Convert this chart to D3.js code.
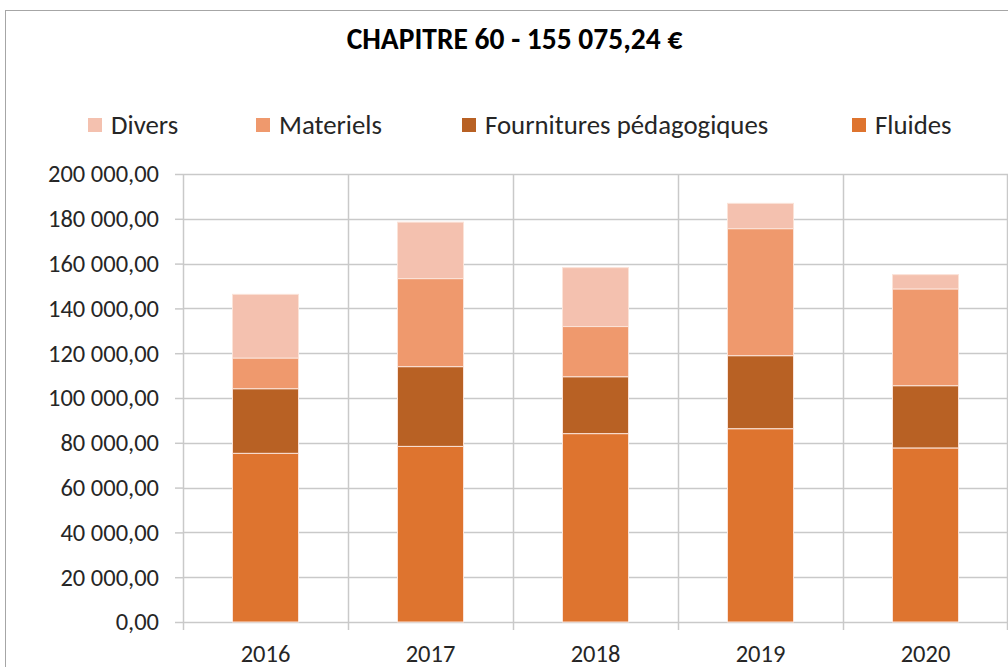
<!DOCTYPE html>
<html>
<head>
<meta charset="utf-8">
<script src="https://cdn.jsdelivr.net/npm/d3@7"></script>
<style>
  body { margin: 0; background: #fff; }
  svg { display: block; }
  text { font-family: Carlito, "Liberation Sans Narrow", "Open Sans", sans-serif; fill: #262626; }
</style>
</head>
<body>
<div id="chart"></div>
<script>
// data
const years = ['2016', '2017', '2018', '2019', '2020'];
const fluides = [75300, 78400, 84100, 86300, 77700];
const fournitures = [28850, 35600, 25400, 32600, 27800];
const materiels = [13700, 39300, 22400, 56700, 43200];
const divers = [28430, 25200, 26300, 11300, 6375];
const yTicks = [0, 20000, 40000, 60000, 80000, 100000, 120000, 140000, 160000, 180000, 200000];

const seriesNames = ['Fluides', 'Fournitures pédagogiques', 'Materiels', 'Divers'];
const legendOrder = ['Divers', 'Materiels', 'Fournitures pédagogiques', 'Fluides'];
const colors = {
  'Fluides': '#DE742F',
  'Fournitures pédagogiques': '#B86124',
  'Materiels': '#EF996D',
  'Divers': '#F4C1AF'
};

const width = 1008, height = 667;
const plot = { left: 183, right: 1008, top: 174, bottom: 622 };

const table = years.map((y, i) => ({
  year: y,
  'Fluides': fluides[i],
  'Fournitures pédagogiques': fournitures[i],
  'Materiels': materiels[i],
  'Divers': divers[i]
}));

const fr = d3.formatLocale({ decimal: ',', thousands: '\u00a0', grouping: [3], currency: ['', ' €'] });
const fmt = fr.format(',.2f');

const svg = d3.select('#chart').append('svg')
  .attr('width', width)
  .attr('height', height);

// outer chart frame
svg.append('rect')
  .attr('x', 5.5).attr('y', 10.5)
  .attr('width', 1100).attr('height', 800)
  .attr('fill', 'none')
  .attr('stroke', '#a6a6a6')
  .attr('stroke-width', 1);

const x = d3.scaleBand()
  .domain(years)
  .range([plot.left, plot.right])
  .padding(0);

const y = d3.scaleLinear()
  .domain([0, 200000])
  .range([plot.bottom, plot.top]);

// horizontal gridlines + y axis
const yAxis = svg.append('g')
  .attr('transform', `translate(${plot.left},0)`)
  .call(d3.axisLeft(y).tickValues(yTicks).tickFormat(fmt).tickSize(8).tickPadding(16));
yAxis.select('.domain').remove();
yAxis.selectAll('line').attr('stroke', '#c9c9c9').attr('stroke-width', 1.5);
yAxis.selectAll('text')
  .style('font-size', '24.5px')
  .style('fill', '#262626');

svg.append('g')
  .selectAll('line')
  .data(yTicks)
  .join('line')
  .attr('x1', plot.left).attr('x2', plot.right)
  .attr('y1', d => Math.round(y(d)) + 0.5).attr('y2', d => Math.round(y(d)) + 0.5)
  .attr('stroke', '#c9c9c9')
  .attr('stroke-width', 1.5);

// vertical gridlines at category boundaries
const edges = years.map(d => x(d)).concat([plot.right - 1]);
svg.append('g')
  .selectAll('line')
  .data(edges)
  .join('line')
  .attr('x1', d => Math.round(d) + 0.5).attr('x2', d => Math.round(d) + 0.5)
  .attr('y1', plot.top).attr('y2', plot.bottom + 8)
  .attr('stroke', '#c9c9c9')
  .attr('stroke-width', 1.5);

// stacked bars
const stack = d3.stack().keys(seriesNames);
const layers = stack(table);
const barW = x.bandwidth() * 0.4;

svg.append('g')
  .selectAll('g')
  .data(layers)
  .join('g')
  .attr('fill', d => colors[d.key])
  .selectAll('rect')
  .data(d => d)
  .join('rect')
  .attr('x', d => x(d.data.year) + (x.bandwidth() - barW) / 2)
  .attr('y', d => y(d[1]))
  .attr('width', barW)
  .attr('height', d => y(d[0]) - y(d[1]))
  .attr('stroke', '#fbe3d8')
  .attr('stroke-width', 1);

// x labels
svg.append('g')
  .selectAll('text')
  .data(years)
  .join('text')
  .attr('x', d => x(d) + x.bandwidth() / 2)
  .attr('y', 662)
  .attr('text-anchor', 'middle')
  .style('font-size', '24.5px')
  .text(d => d);

// title
svg.append('text')
  .attr('x', 514.5)
  .attr('y', 49)
  .attr('text-anchor', 'middle')
  .style('font-size', '29.5px')
  .style('font-weight', 'bold')
  .style('fill', '#000')
  .text('CHAPITRE 60 - 155 075,24 €');

// legend
const legendX = [88, 256, 462, 852];
const legend = svg.append('g');
legendOrder.forEach((name, i) => {
  legend.append('rect')
    .attr('x', legendX[i]).attr('y', 118)
    .attr('width', 14).attr('height', 14)
    .attr('fill', colors[name]);
  legend.append('text')
    .attr('x', legendX[i] + 23)
    .attr('y', 133.5)
    .style('font-size', '26.8px')
    .text(name);
});
</script>
</body>
</html>
